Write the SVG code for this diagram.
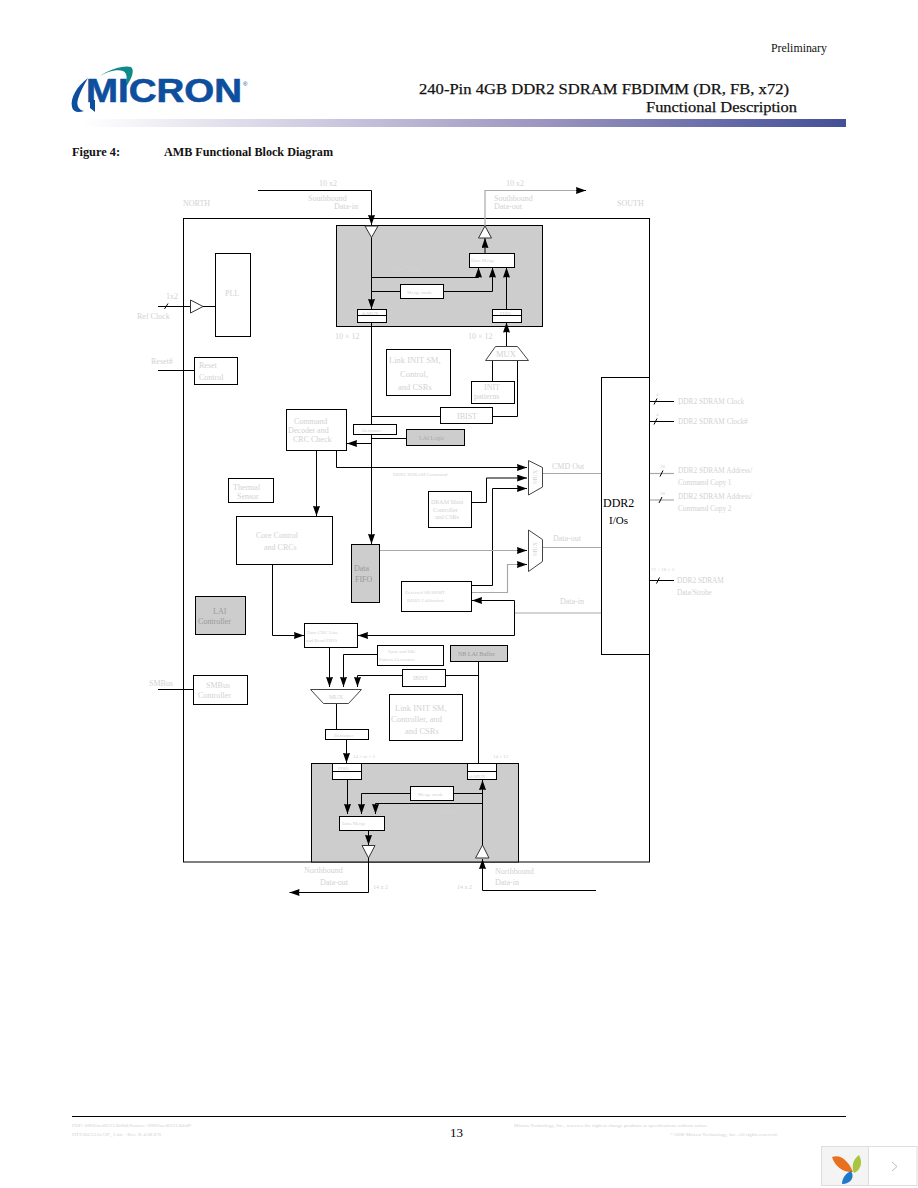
<svg xmlns="http://www.w3.org/2000/svg" width="918" height="1188" viewBox="0 0 918 1188">
<style>
text{font-family:"Liberation Serif","Times New Roman",serif;fill:#d2d2d2;font-size:8px}
.s5{font-size:5px}.s6{font-size:6px}.s9{font-size:8.500px}.r{font-size:7.300px}
.head{fill:#111;stroke:#111;stroke-width:.25}
.box{fill:#fff;stroke:#000;stroke-width:1}
.grey{fill:#cdcdcd;stroke:#000;stroke-width:1}
.tri{fill:#fff;stroke:#333;stroke-width:1}
.w{fill:none;stroke:#000;stroke-width:1}
.g{fill:none;stroke:#a8a8a8;stroke-width:1.2}
.a{marker-end:url(#arrow)}
</style>
<defs>
<marker id="arrow" markerUnits="userSpaceOnUse" markerWidth="11" markerHeight="8" refX="10" refY="3.500" orient="auto"><path d="M0 0L10 3.500L0 7L.5 3.500Z" fill="#000"/></marker>
<linearGradient id="bar" x1="0" x2="1" y1="0" y2="0"><stop offset="0" stop-color="#fff"/><stop offset=".3" stop-color="#d0cce1"/><stop offset=".6" stop-color="#9c96c0"/><stop offset="1" stop-color="#434f97"/></linearGradient>
</defs>
<rect width="918" height="1188" fill="#fff"/>

<!-- page header -->
<g id="page-header">
<text x="771" y="52" class="head" style="font-size:12px;stroke-width:0" textLength="56" lengthAdjust="spacingAndGlyphs">Preliminary</text>
<path d="M98 77C110 69 124 65 131 67C135 70 132 79 125 88C127 80 128 73 123 71C116 69 107 72 98 77Z" fill="#0f8a8a"/>
<path d="M88 78C77 86 70 98 72 107C73 112 78 113 84 111C79 110 76 106 78 99C80 92 84 85 88 78Z" fill="#0d4f9e"/>
<path d="M90 100H95V112L90 108Z" fill="#0d4f9e"/>
<text x="86" y="102" style="font-family:'Liberation Sans',Arial,sans-serif;font-size:33px;font-weight:700;fill:#0d4f9e;stroke:#0d4f9e;stroke-width:.6" textLength="156" lengthAdjust="spacingAndGlyphs">MICRON</text>
<text x="243" y="86" style="font-family:'Liberation Sans',Arial,sans-serif;font-size:6px;fill:#0d4f9e">®</text>
<text x="419" y="94" class="head" style="font-size:15px" textLength="370" lengthAdjust="spacingAndGlyphs">240-Pin 4GB DDR2 SDRAM FBDIMM (DR, FB, x72)</text>
<text x="646" y="112" class="head" style="font-size:15px" textLength="151" lengthAdjust="spacingAndGlyphs">Functional Description</text>
<rect x="83" y="119" width="763" height="8" fill="url(#bar)"/>
<text x="72" y="156" style="font-size:11.500px;font-weight:700;fill:#111" textLength="48" lengthAdjust="spacingAndGlyphs">Figure 4:</text>
<text x="164" y="156" style="font-size:11.500px;font-weight:700;fill:#111" textLength="169" lengthAdjust="spacingAndGlyphs">AMB Functional Block Diagram</text>
</g>

<!-- chip outline and shaded re-time blocks -->
<rect id="chip" x="183.500" y="218.500" width="466" height="643.500" fill="#fff" stroke="#000"/>
<rect id="south-retime" class="grey" x="336.500" y="225.500" width="206" height="101"/>
<rect id="north-retime" class="grey" x="311.500" y="763.500" width="207" height="98.500"/>

<g id="connectors">
<path class="w a" d="M258 190.500H371.500V225"/>
<path class="g" d="M485 226V190.500H576"/>
<path class="w a" d="M576 190.500H586"/>
<path class="w a" d="M371.500 237V309"/>
<path class="w" d="M371.500 322V425"/>
<path class="w a" d="M371.500 434V544"/>
<path class="w a" d="M371.500 277.500H478.500V267.500"/>
<path class="w" d="M371.500 291.500H400.500"/>
<path class="w a" d="M443.500 291.500H492.500V267.500"/>
<path class="w a" d="M506.500 309V267.500"/>
<path class="w a" d="M485 253V238"/>
<path class="w a" d="M506.500 346V322.500"/>
<path class="w" d="M492.500 360V381.500"/>
<path class="w" d="M517.500 360V416.500H492.500"/>
<path class="w" d="M371.500 416.500H440.500"/>
<path class="w" d="M371.500 438.500H406.500"/>
<path class="w a" d="M371.500 443.500H347"/>
<path class="w a" d="M336.500 450V467.500H527"/>
<path class="w a" d="M316.500 450V516"/>
<path class="w a" d="M272.500 564V635.500H304"/>
<path class="w a" d="M471.500 502.500H486.500V478H527"/>
<path class="w a" d="M471.500 585.500H492.500V488.500H527"/>
<path class="g" d="M471.500 592.500H507.500V564.500H518"/>
<path class="w a" d="M517 564.500H527"/>
<path class="g" d="M380 550.500H518"/>
<path class="w a" d="M517 550.500H527"/>
<path class="g" d="M542.500 473.500H601M542.500 547.500H601M514.500 613H601"/>
<path class="w a" d="M514.500 613V600.500H472"/>
<path class="w a" d="M514.500 613V635.500H358"/>
<path class="w a" d="M329.500 647V687"/>
<path class="w a" d="M377.500 654.500H343.500V687"/>
<path class="w a" d="M402.500 675.500H357.500V687"/>
<path class="w" d="M445.500 675.500H478.500"/>
<path class="w" d="M478.500 661V763.500"/>
<path class="w" d="M336.500 703V729.500"/>
<path class="w a" d="M346.500 739V763"/>
<path class="w a" d="M347.500 779V814"/>
<path class="w a" d="M410.500 793.500H361.500V814"/>
<path class="w" d="M453.500 793.500H482.500"/>
<path class="w a" d="M482.500 803.500H375.500V814"/>
<path class="w a" d="M482.500 845V780"/>
<path class="w a" d="M368.500 831V845"/>
<path class="w a" d="M596 890.500H482.500V859"/>
<path class="w a" d="M368.500 858V892.500H289.500"/>
<path class="w" d="M158 306.500H190M203 306.500H215.500M164.500 309L168 303.500"/>
<path class="w" d="M158 370.500H194.500"/>
<path class="w" d="M158 689.500H193.500"/>
<path class="w" d="M649.500 401.500H674M654 404.500L657 398.500"/>
<path class="w" d="M649.500 421.500H674M654 424.500L657 418.500"/>
<path class="g" d="M649.500 473.500H674"/>
<path class="w" d="M660 476.500L663 470.500"/>
<path class="g" d="M649.500 500H674"/>
<path class="w" d="M659 503L662 497"/>
<path class="w" d="M649.500 580.500H674M656.500 583.500L659.500 577.500"/>
</g>

<g id="rx-south"><path class="tri" d="M365 226H378L371.500 237.500Z"/></g>
<g id="tx-south"><path class="tri" d="M478.500 238H491.500L485 226Z"/></g>
<g id="data-merge-south"><rect class="box" x="469.500" y="253.500" width="45" height="14"/><text x="471" y="262" class="s5">Data Merge</text></g>
<g id="merge-mode-south"><rect class="box" x="400.500" y="284.500" width="43" height="14"/><text x="407" y="294" class="s5">Merge mode</text></g>
<g id="demux-south"><rect class="box" x="357.500" y="309.500" width="29" height="13"/><path class="w" d="M357.500 315.500H386.500"/><text x="362" y="314.500" class="s5">deMUX</text></g>
<g id="piso-south"><rect class="box" x="492.500" y="309.500" width="29" height="13"/><path class="w" d="M492.500 315.500H521.500"/><text x="500" y="314.500" class="s5">PISO</text></g>
<g id="mux-south"><path d="M495.500 346.500H517.500L528.500 360.500H485.500Z" fill="#fff" stroke="#444"/><text x="496" y="357" class="s9">MUX</text></g>
<g id="init-patterns"><rect class="box" x="471.500" y="381.500" width="43" height="22"/><text x="484" y="390">INIT</text><text x="474" y="399">patterns</text></g>
<g id="ibist-south"><rect class="box" x="440.500" y="407.500" width="52" height="16"/><text x="457" y="418.500">IBIST</text></g>
<g id="link-init-south"><rect class="box" x="386.500" y="349.500" width="64" height="46"/><text x="389" y="363" class="s9">Link INIT SM,</text><text x="400" y="377" class="s9">Control,</text><text x="398" y="390" class="s9">and CSRs</text></g>
<g id="deframer-south"><rect class="box" x="353.500" y="424.500" width="43" height="10"/><text x="362" y="432" class="s5">Deframer</text></g>
<g id="lai-logic"><rect class="grey" x="406.500" y="429.500" width="58" height="16"/><text x="419" y="440" class="s6" style="fill:#aaa">LAI Logic</text></g>
<g id="pll"><rect class="box" x="215.500" y="253.500" width="35" height="83"/><text x="225" y="296">PLL</text></g>
<g id="ref-clock-buffer"><path class="tri" d="M190.500 300V313L203 306.500Z"/></g>
<g id="reset-control"><rect class="box" x="194.500" y="357.500" width="43" height="27"/><text x="199" y="368">Reset</text><text x="199" y="380">Control</text></g>
<g id="command-decoder"><rect class="box" x="286.500" y="409.500" width="60" height="41"/><text x="294" y="424">Command</text><text x="288" y="433">Decoder and</text><text x="293" y="442">CRC Check</text></g>
<g id="thermal-sensor"><rect class="box" x="228.500" y="478.500" width="45" height="24"/><text x="233" y="490">Thermal</text><text x="237" y="499">Sensor</text></g>
<g id="core-control"><rect class="box" x="236.500" y="516.500" width="96" height="48"/><text x="256" y="538">Core Control</text><text x="264" y="550">and CRCs</text></g>
<g id="lai-controller"><rect class="grey" x="195.500" y="596.500" width="50" height="38"/><text x="213" y="614" style="fill:#999">LAI</text><text x="198" y="624" style="fill:#999">Controller</text></g>
<g id="smbus-controller"><rect class="box" x="193.500" y="675.500" width="54" height="29"/><text x="206" y="688">SMBus</text><text x="198" y="698">Controller</text></g>
<g id="ddr2-ios"><rect class="box" x="601.500" y="377.500" width="48" height="277"/><text x="603" y="507" style="font-size:12px;fill:#000">DDR2</text><text x="609" y="524" style="font-size:11px;fill:#000">I/Os</text></g>
<g id="mux-cmd"><path d="M528.500 460.500L542.500 467.500V487L528.500 495Z" fill="#fff" stroke="#444"/><text transform="translate(537 484) rotate(-90)" class="s6">MUX</text></g>
<g id="mux-data"><path d="M528.500 530L542.500 539.500V561.500L528.500 571.500Z" fill="#fff" stroke="#444"/><text transform="translate(537 556) rotate(-90)" class="s6">MUX</text></g>
<g id="dram-main-controller"><rect class="box" x="428.500" y="491.500" width="43" height="36"/><text x="431" y="504" class="s6">DRAM Main</text><text x="433" y="512" class="s6">Controller</text><text x="435" y="518.500" class="s6">and CSRs</text></g>
<g id="data-fifo"><rect class="grey" x="351.500" y="544.500" width="28" height="58"/><text x="354" y="571" style="fill:#999">Data</text><text x="355" y="582" style="fill:#999">FIFO</text></g>
<g id="deferred-calibration"><rect class="box" x="401.500" y="581.500" width="70" height="30"/><text x="405" y="594" class="s5">Deferred SB/SBMT</text><text x="407" y="602" class="s5">DDR2 Calibration</text></g>
<g id="data-crc"><rect class="box" x="304.500" y="623.500" width="53" height="24"/><text x="307" y="633.500" class="s5">Data CRC Line</text><text x="306" y="641.500" class="s5">and Read FIFO</text></g>
<g id="sync-idle"><rect class="box" x="377.500" y="645.500" width="66" height="20"/><text x="388" y="653" class="s5">Sync and Idle</text><text x="379" y="661" class="s5">Pattern Generator</text></g>
<g id="ibist-north"><rect class="box" x="402.500" y="669.500" width="43" height="17"/><text x="413" y="680" class="s6">IBIST</text></g>
<g id="nb-lai-buffer"><rect class="grey" x="450.500" y="645.500" width="57" height="16"/><text x="458" y="655.500" class="s6" style="fill:#999">NB LAI Buffer</text></g>
<g id="mux-north"><path d="M310.500 689.500H361.500L348.500 703.500H323.500Z" fill="#fff" stroke="#444"/><text x="329" y="699" class="s6">MUX</text></g>
<g id="deframer-north"><rect class="box" x="325.500" y="729.500" width="43" height="10"/><text x="334" y="737" class="s5">Deframer</text></g>
<g id="link-init-north"><rect class="box" x="389.500" y="694.500" width="73" height="46"/><text x="395" y="711" class="s9">Link INIT SM,</text><text x="391" y="722" class="s9">Controller, and</text><text x="405" y="734" class="s9">and CSRs</text></g>
<g id="piso-north"><rect class="box" x="332.500" y="763.500" width="29" height="16"/><path class="w" d="M332.500 771.500H361.500"/><text x="338" y="770" class="s5">PISO</text></g>
<g id="demux-north"><rect class="box" x="467.500" y="763.500" width="29" height="16"/><path class="w" d="M467.500 771.500H496.500"/><text x="469" y="778" class="s5">deMUX</text></g>
<g id="merge-mode-north"><rect class="box" x="410.500" y="786.500" width="43" height="14"/><text x="418" y="795.500" class="s5">Merge mode</text></g>
<g id="data-merge-north"><rect class="box" x="339.500" y="816.500" width="45" height="14"/><text x="342" y="825" class="s5">Data Merge</text></g>
<g id="tx-north"><path class="tri" d="M362 845.500H375L368.500 858Z"/></g>
<g id="rx-north"><path class="tri" d="M475.500 858H489L482.500 845Z"/></g>

<!-- signal and bus labels -->
<g id="labels">
<text x="319" y="186">10 x2</text><text x="308" y="201">Southbound</text><text x="334" y="209">Data-in</text>
<text x="183" y="206">NORTH</text><text x="617" y="206">SOUTH</text>
<text x="506" y="186">10 x2</text><text x="494" y="201">Southbound</text><text x="494" y="209">Data-out</text>
<text x="392" y="272">Re-Time</text><text x="335" y="339">10 × 12</text><text x="468" y="339">10 × 12</text>
<text x="166" y="299">1x2</text><text x="137" y="319">Ref Clock</text><text x="151" y="364">Reset#</text>
<text x="393" y="476" class="s5">DDR2 SDRAM Command</text>
<text x="552" y="469">CMD Out</text><text x="553" y="541">Data-out</text><text x="560" y="604">Data-in</text>
<text x="149" y="686">SMBus</text>
<text x="353" y="758" class="s5">14 × m × 2</text><text x="493" y="758" class="s5">14 × 12</text>
<text x="436" y="813" class="s5">Re-Time</text>
<text x="304" y="873">Northbound</text><text x="320" y="885">Data-out</text><text x="373" y="889" class="s6">14 x 2</text>
<text x="457" y="889" class="s6">14 x 2</text><text x="495" y="874">Northbound</text><text x="495" y="885">Data-in</text>
<text x="656" y="396" class="s5">4</text><text x="656" y="416" class="s5">4</text><text x="660" y="468" class="s5">28</text><text x="660" y="495" class="s5">28</text><text x="651" y="571" class="s5">72 + 18 × 2</text>
<text x="678" y="404" class="r">DDR2 SDRAM Clock</text><text x="678" y="424" class="r">DDR2 SDRAM Clock#</text>
<text x="678" y="473" class="r">DDR2 SDRAM Address/</text><text x="678" y="485" class="r">Command Copy 1</text>
<text x="678" y="499" class="r">DDR2 SDRAM Address/</text><text x="678" y="511" class="r">Command Copy 2</text>
<text x="677" y="583" class="r">DDR2 SDRAM</text><text x="677" y="595" class="r">Data/Strobe</text>
</g>

<!-- page footer -->
<g id="page-footer">
<path d="M72 1116.500H846" stroke="#000"/>
<text x="72" y="1127" class="s5" textLength="119" lengthAdjust="spacingAndGlyphs">PDF: 09005aef82213b6b8/Source: 09005aef82213b6d9</text>
<text x="72" y="1136" class="s5" textLength="89" lengthAdjust="spacingAndGlyphs">HTF36C512x72F_1.fm - Rev. B 4/08 EN</text>
<text x="514" y="1127" class="s5" textLength="194" lengthAdjust="spacingAndGlyphs">Micron Technology, Inc., reserves the right to change products or specifications without notice.</text>
<text x="670" y="1136" class="s5" textLength="108" lengthAdjust="spacingAndGlyphs">©2008 Micron Technology, Inc. All rights reserved.</text>
<text x="450" y="1137" style="font-size:13px;fill:#000" textLength="13" lengthAdjust="spacingAndGlyphs">13</text>
<rect x="821.500" y="1146.500" width="47" height="39" fill="#f4f4f4" stroke="#ddd"/>
<rect x="868.500" y="1146.500" width="48.500" height="39" fill="#fff" stroke="#ddd"/>
<path d="M832 1157C840 1154 848 1160 853 1172C844 1173 835 1167 832 1157Z" fill="#e8701f"/>
<path d="M859 1155C863 1162 861 1170 854 1173C851 1167 853 1159 859 1155Z" fill="#a8c640"/>
<path d="M851 1171C855 1177 851 1184 842 1184C842 1178 846 1173 851 1171Z" fill="#1f78c8"/>
<path d="M892 1162L897 1166.500L892 1171" fill="none" stroke="#bbb"/>
</g>
</svg>
